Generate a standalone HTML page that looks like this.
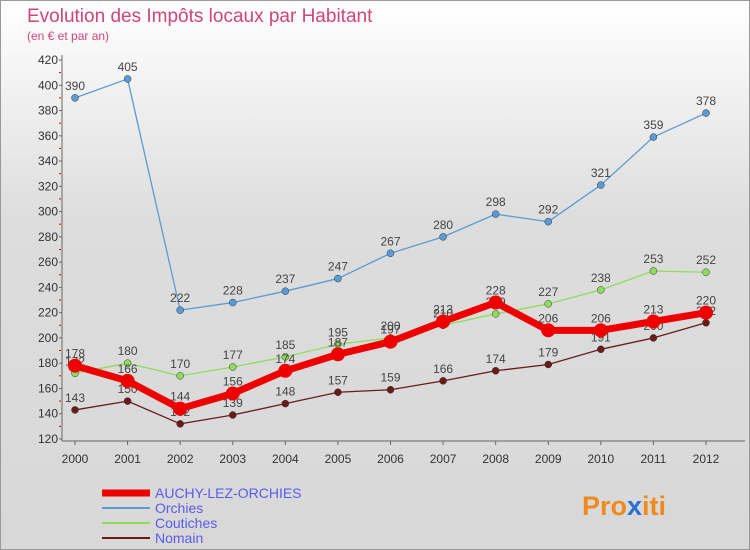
<!DOCTYPE html>
<html><head><meta charset="utf-8"><style>
body{margin:0;width:750px;height:550px;overflow:hidden;font-family:"Liberation Sans",sans-serif}
#wrap{position:relative;width:748px;height:548px;border:1px solid #999;background:linear-gradient(#fff,#ddd 40%,#d8d8d8)}
</style></head><body>
<div id="wrap">
<svg id="c" width="750" height="550" style="position:absolute;left:-1px;top:-1px">
<text x="27" y="22" font-size="19" fill="#d0447a">Evolution des Impôts locaux par Habitant</text>
<text x="27" y="40" font-size="12" fill="#d0447a">(en € et par an)</text>
<g id="grid"></g><g id="series"></g>
<text x="582" y="515" font-size="27" font-weight="bold" fill="#f08a1c">Pro<tspan fill="#2a6fd6">x</tspan>iti</text>
</svg>
</div>
<script>
const years=[2000,2001,2002,2003,2004,2005,2006,2007,2008,2009,2010,2011,2012];
const yTicks=[120,140,160,180,200,220,240,260,280,300,320,340,360,380,400,420];
const auchy=[178,166,144,156,174,187,197,213,228,206,206,213,220];
const orchies=[390,405,222,228,237,247,267,280,298,292,321,359,378];
const coutiches=[172,180,170,177,185,195,200,210,219,227,238,253,252];
const nomain=[143,150,132,139,148,157,159,166,174,179,191,200,212];
const names=["AUCHY-LEZ-ORCHIES","Orchies","Coutiches","Nomain"];
const NS="http://www.w3.org/2000/svg";
const X=i=>75+i*(706-75)/(years.length-1);
const Y=v=>439-(v-120)*(439-60)/300;
function el(t,a,p){const e=document.createElementNS(NS,t);for(const k in a)e.setAttribute(k,a[k]);p.appendChild(e);return e;}
const g=document.getElementById('grid'),s=document.getElementById('series');
el('line',{x1:62,y1:55,x2:62,y2:441,stroke:'#666'},g);
el('line',{x1:62,y1:441,x2:745,y2:441,stroke:'#666'},g);
yTicks.forEach(v=>{const t=el('text',{x:58,y:Y(v)+4,'font-size':12,fill:'#333','text-anchor':'end'},g);t.textContent=v;


el('line',{x1:59,y1:Y(v),x2:62,y2:Y(v),stroke:'#666'},g);
if(v>120)el('line',{x1:59,y1:Y(v)+12.6,x2:61,y2:Y(v)+12.6,stroke:'#d00'},g);});
years.forEach((yr,i)=>{const t=el('text',{x:X(i),y:463,'font-size':12,fill:'#333','text-anchor':'middle'},g);t.textContent=yr;


el('line',{x1:X(i),y1:441,x2:X(i),y2:445,stroke:'#666'},g);});
function draw(data,color,w,r,name){
const grp=el('g',{},s);


el('polyline',{points:data.map((v,i)=>X(i)+','+Y(v)).join(' '),fill:'none',stroke:color,'stroke-width':w,'stroke-linejoin':'round'},grp);
data.forEach((v,i)=>{const c=el('circle',{cx:X(i),cy:Y(v),r:r,fill:color,stroke:w>3?'none':'#333','stroke-width':0.5},grp);


const t=el('text',{x:X(i),y:Y(v)-8,'font-size':12,fill:'#444','text-anchor':'middle'},grp);t.textContent=v;});}
draw(orchies,'#5b9bd5',1.3,3.5,'series-orchies');
draw(coutiches,'#8fdc5a',1.3,3.5,'series-coutiches');
draw(nomain,'#6b1a1a',1.3,3.5,'series-nomain');
draw(auchy,'#ee0000',7,7,'series-auchy');
const leg=[['#ee0000',7],['#5b9bd5',2],['#8fdc5a',2],['#6b1a1a',2]];
leg.forEach((l,i)=>{const y=493+i*15;
const lg=el('g',{},s);


el('line',{x1:102,y1:y,x2:150,y2:y,stroke:l[0],'stroke-width':l[1]},lg);
const t=el('text',{x:155,y:y+5,'font-size':14,fill:'#5a5aee'},lg);t.textContent=names[i];});
</script>
</body></html>
